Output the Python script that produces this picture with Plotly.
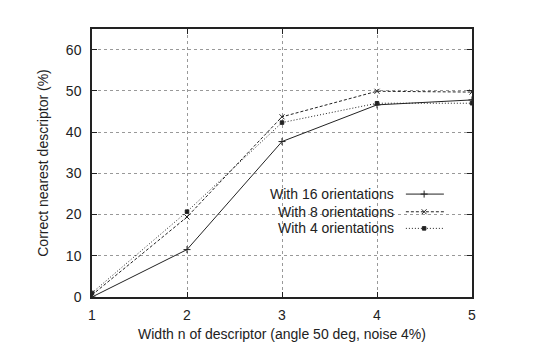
import plotly.graph_objects as go

# Descriptor width and percentage of correct nearest descriptors
widths = [1, 2, 3, 4, 5]
orient16 = [0.0, 11.5, 37.7, 46.6, 47.8]
orient8 = [0.5, 19.4, 43.7, 49.9, 49.7]
orient4 = [1.0, 20.7, 42.3, 47.0, 47.0]

series_names = ["With 16 orientations", "With 8 orientations", "With 4 orientations"]
series_values = [orient16, orient8, orient4]
dashes = ["solid", "3px,2px", "1px,2px"]
symbols = ["cross-thin", "x-thin", "square"]
msizes = [5, 5, 3.5]

FONT = "Liberation Sans, Arial, sans-serif"
ink = "#222222"

fig = go.Figure()
for name, vals, d, s, ms in zip(series_names, series_values, dashes, symbols, msizes):
    fig.add_trace(go.Scatter(
        x=widths, y=vals, mode="lines+markers", name=name,
        line=dict(color=ink, width=1, dash=d),
        marker=dict(symbol=s, size=ms, color=ink, line=dict(color=ink, width=1)),
        showlegend=False,
    ))

# Key drawn on an overlay axis: label right-aligned, sample line to its right
key_y = [0.384, 0.318, 0.256]
for name, d, s, ms, ky in zip(series_names, dashes, symbols, msizes, key_y):
    fig.add_trace(go.Scatter(
        x=[0.826, 0.874, 0.926], y=[ky, ky, ky], mode="lines",
        line=dict(color=ink, width=1, dash=d),
        xaxis="x2", yaxis="y2", showlegend=False, hoverinfo="skip",
    ))
    fig.add_trace(go.Scatter(
        x=[0.874], y=[ky], mode="markers",
        marker=dict(symbol=s, size=ms, color=ink, line=dict(color=ink, width=1)),
        xaxis="x2", yaxis="y2", showlegend=False, hoverinfo="skip",
    ))
    fig.add_annotation(
        x=0.799, y=ky, xref="x2", yref="y2", text=name, showarrow=False,
        xanchor="right", yanchor="middle", font=dict(family=FONT, size=14, color=ink),
    )

axis_common = dict(
    showline=True, linecolor=ink, linewidth=1.5, mirror="ticks",
    ticks="inside", ticklen=5, tickcolor=ink, tickwidth=1,
    showgrid=True, gridcolor="#999999", griddash="dot", gridwidth=1,
    zeroline=False, automargin=False,
    tickfont=dict(family=FONT, size=14, color=ink),
)

fig.update_layout(
    width=535, height=347,
    margin=dict(l=92, r=63, t=29, b=50),
    paper_bgcolor="white", plot_bgcolor="white",
    xaxis=dict(
        range=[1, 5], dtick=1, ticklabelstandoff=4,
        title=dict(text="Width n of descriptor (angle 50 deg, noise 4%)",
                   font=dict(family=FONT, size=14, color=ink), standoff=8),
        **axis_common,
    ),
    yaxis=dict(
        range=[0, 65], tickvals=[0, 10, 20, 30, 40, 50, 60], ticklabelstandoff=6,
        title=dict(text="Correct nearest descriptor (%)",
                   font=dict(family=FONT, size=14, color=ink), standoff=14),
        **axis_common,
    ),
    xaxis2=dict(overlaying="x", range=[0, 1], visible=False, fixedrange=True),
    yaxis2=dict(overlaying="y", range=[0, 1], visible=False, fixedrange=True),
)

fig.write_html("out.html")
